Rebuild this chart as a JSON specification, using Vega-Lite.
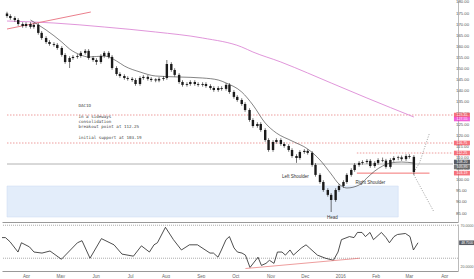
{
"$schema": "https://vega.github.io/schema/vega-lite/v6.json",
"padding": 0,
"background": "white",
"spacing": 1,
"config": {"view": {"stroke": null}, "font": "Liberation Sans", "axis": {"labelFontSize": 4.5, "labelColor": "#666", "grid": false, "domainColor": "#aaa", "ticks": false, "labelOverlap": false}},
"datasets": {
"zones": [{"s": "2015-03-11", "e": "2016-02-24", "lo": 83.45, "hi": 97.4}],
"levels": [
{"k": "dot", "p": 129.35, "s": "2015-03-11", "e": "2016-04-13"},
{"k": "dot", "p": 116.75, "s": "2015-03-11", "e": "2016-04-13"},
{"k": "dot", "p": 112.25, "s": "2016-01-18", "e": "2016-04-13"},
{"k": "cur", "p": 107.3, "s": "2015-03-11", "e": "2016-04-13"},
{"k": "sup", "p": 103.19, "s": "2016-01-18", "e": "2016-03-23"}
],
"ohlc": [
{"d":"2015-03-11","o":175.0,"h":175.8,"l":173.1,"c":173.9},
{"d":"2015-03-14","o":173.9,"h":174.7,"l":172.2,"c":173.0},
{"d":"2015-03-18","o":173.0,"h":173.8,"l":171.3,"c":172.1},
{"d":"2015-03-21","o":172.1,"h":172.9,"l":169.5,"c":170.3},
{"d":"2015-03-25","o":170.3,"h":171.1,"l":168.6,"c":169.4},
{"d":"2015-03-28","o":169.4,"h":171.1,"l":168.6,"c":170.3},
{"d":"2015-04-01","o":170.3,"h":171.1,"l":168.2,"c":169.0},
{"d":"2015-04-04","o":169.0,"h":170.7,"l":168.2,"c":169.9},
{"d":"2015-04-08","o":169.9,"h":170.7,"l":165.5,"c":166.3},
{"d":"2015-04-11","o":166.3,"h":167.1,"l":163.2,"c":164.0},
{"d":"2015-04-15","o":164.0,"h":164.8,"l":161.4,"c":162.2},
{"d":"2015-04-18","o":162.2,"h":163.0,"l":160.5,"c":161.3},
{"d":"2015-04-22","o":161.3,"h":162.1,"l":160.1,"c":160.9},
{"d":"2015-04-25","o":160.9,"h":161.7,"l":158.7,"c":159.5},
{"d":"2015-04-29","o":159.5,"h":160.3,"l":155.6,"c":156.4},
{"d":"2015-05-02","o":156.4,"h":157.2,"l":152.4,"c":153.2},
{"d":"2015-05-06","o":153.2,"h":155.8,"l":150.5,"c":155.0},
{"d":"2015-05-09","o":155.0,"h":156.3,"l":154.2,"c":155.5},
{"d":"2015-05-13","o":155.5,"h":156.7,"l":154.7,"c":155.9},
{"d":"2015-05-16","o":155.9,"h":158.1,"l":155.1,"c":157.3},
{"d":"2015-05-20","o":157.3,"h":159.0,"l":156.5,"c":158.2},
{"d":"2015-05-23","o":158.2,"h":159.0,"l":154.2,"c":155.0},
{"d":"2015-05-27","o":155.0,"h":155.8,"l":153.3,"c":154.1},
{"d":"2015-05-30","o":154.1,"h":154.9,"l":151.9,"c":153.2},
{"d":"2015-06-03","o":153.2,"h":156.7,"l":152.4,"c":155.9},
{"d":"2015-06-06","o":155.9,"h":158.1,"l":155.1,"c":157.3},
{"d":"2015-06-10","o":157.3,"h":158.1,"l":154.7,"c":155.5},
{"d":"2015-06-13","o":155.5,"h":156.3,"l":149.7,"c":150.5},
{"d":"2015-06-17","o":150.5,"h":151.3,"l":147.0,"c":147.8},
{"d":"2015-06-20","o":147.8,"h":148.6,"l":146.1,"c":146.9},
{"d":"2015-06-24","o":146.9,"h":147.7,"l":145.2,"c":146.0},
{"d":"2015-06-27","o":146.0,"h":146.8,"l":144.8,"c":145.6},
{"d":"2015-07-01","o":145.6,"h":146.4,"l":144.3,"c":145.1},
{"d":"2015-07-04","o":145.1,"h":145.9,"l":142.5,"c":143.3},
{"d":"2015-07-08","o":143.3,"h":146.8,"l":142.5,"c":146.0},
{"d":"2015-07-11","o":146.0,"h":147.3,"l":145.2,"c":146.5},
{"d":"2015-07-15","o":146.5,"h":147.3,"l":144.8,"c":145.6},
{"d":"2015-07-18","o":145.6,"h":146.4,"l":144.3,"c":145.1},
{"d":"2015-07-22","o":145.4,"h":145.9,"l":144.1,"c":144.9},
{"d":"2015-07-25","o":144.9,"h":146.4,"l":144.1,"c":145.6},
{"d":"2015-07-29","o":145.6,"h":146.8,"l":144.8,"c":146.0},
{"d":"2015-08-01","o":146.0,"h":154.1,"l":145.2,"c":152.3},
{"d":"2015-08-05","o":152.3,"h":153.1,"l":148.8,"c":149.6},
{"d":"2015-08-08","o":149.6,"h":150.4,"l":146.6,"c":147.4},
{"d":"2015-08-12","o":147.4,"h":148.2,"l":143.4,"c":144.2},
{"d":"2015-08-15","o":144.2,"h":145.0,"l":142.1,"c":142.9},
{"d":"2015-08-19","o":142.9,"h":144.1,"l":142.1,"c":143.3},
{"d":"2015-08-22","o":143.3,"h":145.0,"l":142.5,"c":144.2},
{"d":"2015-08-26","o":144.2,"h":145.0,"l":142.5,"c":143.3},
{"d":"2015-08-29","o":143.3,"h":144.1,"l":142.1,"c":142.9},
{"d":"2015-09-02","o":142.9,"h":144.1,"l":142.1,"c":143.3},
{"d":"2015-09-05","o":143.3,"h":144.1,"l":141.6,"c":142.4},
{"d":"2015-09-09","o":142.4,"h":143.2,"l":140.7,"c":141.5},
{"d":"2015-09-12","o":141.5,"h":142.3,"l":139.8,"c":140.6},
{"d":"2015-09-16","o":140.6,"h":142.3,"l":139.8,"c":141.5},
{"d":"2015-09-19","o":141.5,"h":142.3,"l":140.3,"c":141.1},
{"d":"2015-09-23","o":141.1,"h":143.7,"l":140.3,"c":142.9},
{"d":"2015-09-26","o":142.9,"h":143.7,"l":138.9,"c":139.7},
{"d":"2015-09-30","o":139.7,"h":140.5,"l":136.7,"c":137.5},
{"d":"2015-10-03","o":137.5,"h":138.3,"l":135.3,"c":136.1},
{"d":"2015-10-07","o":136.1,"h":136.9,"l":133.5,"c":134.3},
{"d":"2015-10-10","o":134.3,"h":135.1,"l":130.8,"c":131.6},
{"d":"2015-10-14","o":131.6,"h":132.4,"l":126.3,"c":127.1},
{"d":"2015-10-17","o":127.1,"h":127.9,"l":123.6,"c":124.4},
{"d":"2015-10-21","o":124.4,"h":126.1,"l":123.6,"c":125.3},
{"d":"2015-10-24","o":125.3,"h":126.1,"l":121.8,"c":122.6},
{"d":"2015-10-28","o":122.6,"h":123.4,"l":117.3,"c":118.1},
{"d":"2015-10-31","o":118.1,"h":118.9,"l":112.8,"c":113.6},
{"d":"2015-11-04","o":113.6,"h":118.0,"l":112.8,"c":117.2},
{"d":"2015-11-07","o":117.2,"h":118.9,"l":116.4,"c":118.1},
{"d":"2015-11-11","o":118.1,"h":118.9,"l":115.5,"c":116.3},
{"d":"2015-11-14","o":116.3,"h":117.1,"l":114.6,"c":115.4},
{"d":"2015-11-18","o":115.4,"h":116.2,"l":112.8,"c":113.6},
{"d":"2015-11-21","o":113.6,"h":114.4,"l":110.1,"c":110.9},
{"d":"2015-11-25","o":110.9,"h":111.7,"l":107.8,"c":110.0},
{"d":"2015-11-28","o":110.0,"h":113.5,"l":109.2,"c":112.7},
{"d":"2015-12-02","o":112.7,"h":114.0,"l":111.9,"c":113.2},
{"d":"2015-12-05","o":113.2,"h":114.0,"l":111.5,"c":112.3},
{"d":"2015-12-09","o":112.3,"h":113.1,"l":106.1,"c":106.9},
{"d":"2015-12-12","o":106.9,"h":107.7,"l":101.6,"c":102.4},
{"d":"2015-12-16","o":102.4,"h":103.2,"l":98.4,"c":99.2},
{"d":"2015-12-19","o":99.2,"h":100.0,"l":94.8,"c":95.6},
{"d":"2015-12-23","o":95.6,"h":96.4,"l":92.6,"c":93.4},
{"d":"2015-12-26","o":93.4,"h":94.2,"l":85.7,"c":91.1},
{"d":"2015-12-30","o":91.1,"h":96.4,"l":90.3,"c":95.6},
{"d":"2016-01-02","o":95.6,"h":98.2,"l":94.8,"c":97.4},
{"d":"2016-01-06","o":97.4,"h":100.0,"l":96.6,"c":99.2},
{"d":"2016-01-09","o":99.2,"h":103.2,"l":98.4,"c":102.4},
{"d":"2016-01-13","o":102.4,"h":105.4,"l":101.6,"c":104.6},
{"d":"2016-01-16","o":104.6,"h":107.7,"l":103.8,"c":106.9},
{"d":"2016-01-20","o":106.9,"h":108.6,"l":106.1,"c":107.8},
{"d":"2016-01-23","o":107.8,"h":109.0,"l":107.0,"c":108.2},
{"d":"2016-01-27","o":108.2,"h":109.5,"l":107.4,"c":108.7},
{"d":"2016-01-30","o":108.7,"h":109.5,"l":105.6,"c":106.4},
{"d":"2016-02-03","o":106.4,"h":108.6,"l":105.6,"c":107.8},
{"d":"2016-02-06","o":107.8,"h":109.9,"l":107.0,"c":109.1},
{"d":"2016-02-10","o":109.1,"h":110.2,"l":108.1,"c":108.8},
{"d":"2016-02-13","o":108.8,"h":109.6,"l":105.2,"c":106.0},
{"d":"2016-02-17","o":106.0,"h":109.9,"l":105.2,"c":109.1},
{"d":"2016-02-20","o":109.1,"h":110.8,"l":108.3,"c":110.0},
{"d":"2016-02-24","o":110.0,"h":111.0,"l":109.0,"c":110.3},
{"d":"2016-02-27","o":110.3,"h":111.1,"l":108.7,"c":109.5},
{"d":"2016-03-02","o":109.5,"h":111.7,"l":108.7,"c":110.9},
{"d":"2016-03-05","o":110.9,"h":111.7,"l":109.7,"c":110.5},
{"d":"2016-03-09","o":110.5,"h":111.3,"l":102.4,"c":103.7}
],
"ma": [
{"d":"2015-04-01","p":172.1},{"d":"2015-04-15","p":167.6},{"d":"2015-04-29","p":162.2},{"d":"2015-05-06","p":159.05},
{"d":"2015-05-16","p":156.35},{"d":"2015-05-23","p":155.45},{"d":"2015-06-06","p":155.9},{"d":"2015-06-17","p":153.65},
{"d":"2015-06-24","p":151.4},{"d":"2015-07-08","p":148.7},{"d":"2015-07-22","p":146.9},{"d":"2015-08-12","p":146.45},
{"d":"2015-09-02","p":146.0},{"d":"2015-09-16","p":145.1},{"d":"2015-09-23","p":143.75},{"d":"2015-10-07","p":139.7},
{"d":"2015-10-17","p":133.85},{"d":"2015-10-28","p":125.75},{"d":"2015-11-07","p":121.25},{"d":"2015-11-21","p":117.65},
{"d":"2015-12-05","p":114.05},{"d":"2015-12-16","p":109.1},{"d":"2015-12-26","p":102.8},{"d":"2016-01-02","p":98.3},
{"d":"2016-01-09","p":96.5},{"d":"2016-01-20","p":97.85},{"d":"2016-01-27","p":101.0},{"d":"2016-02-03","p":104.15},
{"d":"2016-02-10","p":106.4},{"d":"2016-02-17","p":107.75},{"d":"2016-02-27","p":108.2},{"d":"2016-03-09","p":107.75}
],
"ma200": [
{"d":"2015-03-11","p":171.65},{"d":"2015-04-22","p":170.75},{"d":"2015-06-06","p":168.95},{"d":"2015-07-22","p":166.7},
{"d":"2015-09-02","p":164.0},{"d":"2015-10-07","p":159.95},{"d":"2015-10-17","p":157.7},{"d":"2015-11-11","p":153.2},
{"d":"2015-12-05","p":148.25},{"d":"2015-12-26","p":143.75},{"d":"2016-01-27","p":137.0},{"d":"2016-03-09","p":128.45}
],
"paths": [
{"g":"tl","d":"2015-03-11","p":168.05},{"g":"tl","d":"2015-05-25","p":175.7},
{"g":"up","d":"2016-03-09","p":103.7},{"g":"up","d":"2016-03-14","p":107.75},{"g":"up","d":"2016-03-23","p":121.25},
{"g":"dn","d":"2016-03-09","p":102.4},{"g":"dn","d":"2016-03-27","p":85.7}
],
"notes": [
{"d":"2015-05-14","p":133.4,"t":"DAC1D"},
{"d":"2015-05-14","p":128.6,"t":"in a sideways"},
{"d":"2015-05-14","p":126.2,"t":"consolidation"},
{"d":"2015-05-14","p":123.8,"t":"breakout point at 112.25"},
{"d":"2015-05-14","p":119.1,"t":"initial support at 103.19"}
],
"hs": [
{"d":"2015-11-24","p":101.45,"t":"Left Shoulder"},
{"d":"2016-01-30","p":98.75,"t":"Right Shoulder"},
{"d":"2015-12-27","p":82.95,"t":"Head"}
],
"ticksP": [{"v":85},{"v":90},{"v":95},{"v":100},{"v":105},{"v":110},{"v":115},{"v":120},{"v":125},{"v":130},{"v":135},{"v":140},{"v":145},{"v":150},{"v":155},{"v":160},{"v":165},{"v":170},{"v":175},{"v":180}],
"tags": [
{"p":129.35,"k":"lvl"},{"p":127.55,"k":"ma"},{"p":116.75,"k":"lvl"},{"p":112.25,"k":"lvl"},
{"p":108.2,"k":"px"},{"p":105.95,"k":"px2"},{"p":103.19,"k":"lvl"}
],
"rsilev": [{"v":70},{"v":30}],
"rsi": [
{"d":"2015-03-11","v":55},{"d":"2015-03-14","v":55},{"d":"2015-03-18","v":50},{"d":"2015-03-25","v":37.5},
{"d":"2015-03-28","v":48.75},{"d":"2015-04-04","v":43.75},{"d":"2015-04-08","v":37.5},{"d":"2015-04-15","v":36.25},
{"d":"2015-04-22","v":38.75},{"d":"2015-05-02","v":28.75},{"d":"2015-05-16","v":48.75},{"d":"2015-05-20","v":51.25},
{"d":"2015-05-27","v":30},{"d":"2015-06-06","v":53.75},{"d":"2015-06-17","v":46.25},{"d":"2015-06-24","v":35},
{"d":"2015-07-04","v":32.5},{"d":"2015-07-11","v":45},{"d":"2015-07-18","v":37.5},{"d":"2015-07-22","v":46.25},
{"d":"2015-07-25","v":48.75},{"d":"2015-08-01","v":67.5},{"d":"2015-08-08","v":52.5},{"d":"2015-08-15","v":40},
{"d":"2015-08-22","v":46.25},{"d":"2015-08-29","v":46.25},{"d":"2015-09-09","v":36.25},{"d":"2015-09-12","v":36.25},
{"d":"2015-09-16","v":31.25},{"d":"2015-09-19","v":40},{"d":"2015-09-23","v":52.5},{"d":"2015-09-26","v":56.25},
{"d":"2015-09-30","v":42.5},{"d":"2015-10-03","v":37.5},{"d":"2015-10-07","v":36.25},{"d":"2015-10-10","v":33.75},
{"d":"2015-10-14","v":18.75},{"d":"2015-10-21","v":31.25},{"d":"2015-10-24","v":21.25},{"d":"2015-10-28","v":23.75},
{"d":"2015-10-31","v":27.5},{"d":"2015-11-04","v":23.75},{"d":"2015-11-07","v":37.5},{"d":"2015-11-11","v":37.5},
{"d":"2015-11-14","v":33.75},{"d":"2015-11-18","v":40},{"d":"2015-11-21","v":33.75},{"d":"2015-11-28","v":42.5},
{"d":"2015-12-02","v":46.25},{"d":"2015-12-05","v":42.5},{"d":"2015-12-12","v":33.75},{"d":"2015-12-19","v":30},
{"d":"2015-12-26","v":27.5},{"d":"2015-12-30","v":37.5},{"d":"2016-01-02","v":52.5},{"d":"2016-01-09","v":56.25},
{"d":"2016-01-13","v":55},{"d":"2016-01-16","v":61.25},{"d":"2016-01-20","v":61.25},{"d":"2016-01-23","v":56.25},
{"d":"2016-01-27","v":61.25},{"d":"2016-01-30","v":52.5},{"d":"2016-02-06","v":61.25},{"d":"2016-02-10","v":55},
{"d":"2016-02-13","v":48.75},{"d":"2016-02-17","v":56.25},{"d":"2016-02-20","v":58.75},{"d":"2016-02-27","v":60},
{"d":"2016-03-02","v":56.25},{"d":"2016-03-05","v":40},{"d":"2016-03-09","v":48.75}
],
"rsitl": [{"d":"2015-10-10","v":17.5},{"d":"2016-01-18","v":30}],
"rsitag": [{"v":48.75}]
},
"vconcat": [
{
"width": 456, "height": 222,
"layer": [
{"data": {"name": "zones"}, "mark": {"type": "rect", "color": "#e3edfa", "stroke": "#c8daf2", "strokeWidth": 0.5},
 "encoding": {
  "x": {"field": "s", "type": "temporal", "scale": {"type": "utc", "domain": [{"year": 2015, "month": 3, "date": 11, "utc": true}, {"year": 2016, "month": 4, "date": 13, "utc": true}]}, "axis": {"title": null, "labels": false, "ticks": false, "domain": true, "domainColor": "#999"}},
  "x2": {"field": "e"},
  "y": {"field": "lo", "type": "quantitative", "scale": {"domain": [81.2, 181.1], "nice": false, "zero": false}, "axis": {"title": null, "orient": "right", "labels": false, "domainColor": "#bbb"}},
  "y2": {"field": "hi"}}},
{"data": {"name": "ticksP"}, "mark": {"type": "text", "align": "left", "baseline": "middle", "fontSize": 4.3, "color": "#555", "dx": 3},
 "encoding": {"x": {"datum": {"year": 2016, "month": 4, "date": 13, "utc": true}, "type": "temporal"}, "y": {"field": "v", "type": "quantitative"}, "text": {"field": "v", "type": "quantitative", "format": ".2f"}}},
{"data": {"name": "levels"}, "transform": [{"filter": "datum.k == 'dot'"}], "mark": {"type": "rule", "color": "#e57373", "strokeWidth": 0.7, "strokeDash": [1.5, 1.5]},
 "encoding": {"x": {"field": "s", "type": "temporal"}, "x2": {"field": "e"}, "y": {"field": "p", "type": "quantitative"}}},
{"data": {"name": "levels"}, "transform": [{"filter": "datum.k == 'cur'"}], "mark": {"type": "rule", "color": "#9e9e9e", "strokeWidth": 0.8},
 "encoding": {"x": {"field": "s", "type": "temporal"}, "x2": {"field": "e"}, "y": {"field": "p", "type": "quantitative"}}},
{"data": {"name": "levels"}, "transform": [{"filter": "datum.k == 'sup'"}], "mark": {"type": "rule", "color": "#f05252", "strokeWidth": 0.8},
 "encoding": {"x": {"field": "s", "type": "temporal"}, "x2": {"field": "e"}, "y": {"field": "p", "type": "quantitative"}}},
{"data": {"name": "ma200"}, "mark": {"type": "line", "color": "#dd8ad6", "strokeWidth": 0.9, "interpolate": "monotone"},
 "encoding": {"x": {"field": "d", "type": "temporal"}, "y": {"field": "p", "type": "quantitative"}}},
{"data": {"name": "paths"}, "transform": [{"filter": "datum.g == 'tl'"}], "mark": {"type": "line", "color": "#e8707f", "strokeWidth": 0.9},
 "encoding": {"x": {"field": "d", "type": "temporal"}, "y": {"field": "p", "type": "quantitative"}}},
{"data": {"name": "paths"}, "transform": [{"filter": "datum.g != 'tl'"}], "mark": {"type": "line", "color": "#777", "strokeWidth": 0.7, "strokeDash": [1, 1.5]},
 "encoding": {"x": {"field": "d", "type": "temporal"}, "y": {"field": "p", "type": "quantitative"}, "detail": {"field": "g"}}},
{"data": {"name": "ma"}, "mark": {"type": "line", "color": "#333", "strokeWidth": 0.6, "interpolate": "monotone"},
 "encoding": {"x": {"field": "d", "type": "temporal"}, "y": {"field": "p", "type": "quantitative"}}},
{"data": {"name": "ohlc"}, "mark": {"type": "rule", "color": "#1a1a1a", "strokeWidth": 0.6},
 "encoding": {"x": {"field": "d", "type": "temporal"}, "y": {"field": "l", "type": "quantitative"}, "y2": {"field": "h"}}},
{"data": {"name": "ohlc"}, "mark": {"type": "bar", "color": "#1a1a1a", "size": 2.4},
 "encoding": {"x": {"field": "d", "type": "temporal"}, "y": {"field": "o", "type": "quantitative"}, "y2": {"field": "c"}}},
{"data": {"name": "notes"}, "mark": {"type": "text", "align": "left", "baseline": "middle", "font": "DejaVu Sans Mono", "fontSize": 4.2, "color": "#444"},
 "encoding": {"x": {"field": "d", "type": "temporal"}, "y": {"field": "p", "type": "quantitative"}, "text": {"field": "t"}}},
{"data": {"name": "hs"}, "mark": {"type": "text", "align": "center", "baseline": "middle", "fontSize": 4.5, "color": "#333"},
 "encoding": {"x": {"field": "d", "type": "temporal"}, "y": {"field": "p", "type": "quantitative"}, "text": {"field": "t"}}},
{"data": {"name": "tags"}, "mark": {"type": "tick", "orient": "horizontal", "size": 16, "thickness": 4.6},
 "encoding": {"x": {"datum": {"year": 2016, "month": 4, "date": 21, "utc": true}, "type": "temporal"}, "y": {"field": "p", "type": "quantitative"},
  "color": {"field": "k", "type": "nominal", "legend": null, "scale": {"domain": ["lvl", "ma", "px", "px2"], "range": ["#f23645", "#e91ec8", "#131722", "#3d3d3d"]}}}},
{"data": {"name": "tags"}, "mark": {"type": "text", "align": "center", "baseline": "middle", "fontSize": 3.6, "color": "white"},
 "encoding": {"x": {"datum": {"year": 2016, "month": 4, "date": 21, "utc": true}, "type": "temporal"}, "y": {"field": "p", "type": "quantitative"}, "text": {"field": "p", "type": "quantitative", "format": ".2f"}}}
]
},
{
"width": 456, "height": 47,
"layer": [
{"data": {"name": "rsilev"}, "mark": {"type": "rule", "color": "#888", "strokeWidth": 0.7, "strokeDash": [1, 1]},
 "encoding": {"y": {"field": "v", "type": "quantitative", "scale": {"domain": [14.5, 71.5], "nice": false, "zero": false}, "axis": {"title": null, "orient": "right", "values": [20, 40, 60, 70], "format": ".4f", "labelOverlap": false, "labelPadding": 2, "labelFontSize": 3.6, "domainColor": "#bbb"}}}},
{"data": {"name": "rsi"}, "mark": {"type": "line", "color": "#222", "strokeWidth": 0.8},
 "encoding": {
  "x": {"field": "d", "type": "temporal", "scale": {"type": "utc", "domain": [{"year": 2015, "month": 3, "date": 11, "utc": true}, {"year": 2016, "month": 4, "date": 13, "utc": true}]},
   "axis": {"title": null, "orient": "bottom", "tickCount": {"interval": "month", "step": 1}, "labelExpr": "utcFormat(datum.value, '%m') == '01' ? utcFormat(datum.value, '%Y') : utcFormat(datum.value, '%b')", "labelPadding": 2, "domainColor": "#999"}},
  "y": {"field": "v", "type": "quantitative"}}},
{"data": {"name": "rsitl"}, "mark": {"type": "line", "color": "#e57373", "strokeWidth": 0.7},
 "encoding": {"x": {"field": "d", "type": "temporal"}, "y": {"field": "v", "type": "quantitative"}}},
{"data": {"name": "rsitag"}, "mark": {"type": "tick", "orient": "horizontal", "size": 16, "thickness": 4.6, "color": "#131722"},
 "encoding": {"x": {"datum": {"year": 2016, "month": 4, "date": 21, "utc": true}, "type": "temporal"}, "y": {"field": "v", "type": "quantitative"}}},
{"data": {"name": "rsitag"}, "mark": {"type": "text", "align": "center", "baseline": "middle", "fontSize": 3.3, "color": "white"},
 "encoding": {"x": {"datum": {"year": 2016, "month": 4, "date": 21, "utc": true}, "type": "temporal"}, "y": {"field": "v", "type": "quantitative"}, "text": {"field": "v", "type": "quantitative", "format": ".4f"}}}
]
}
]
}
